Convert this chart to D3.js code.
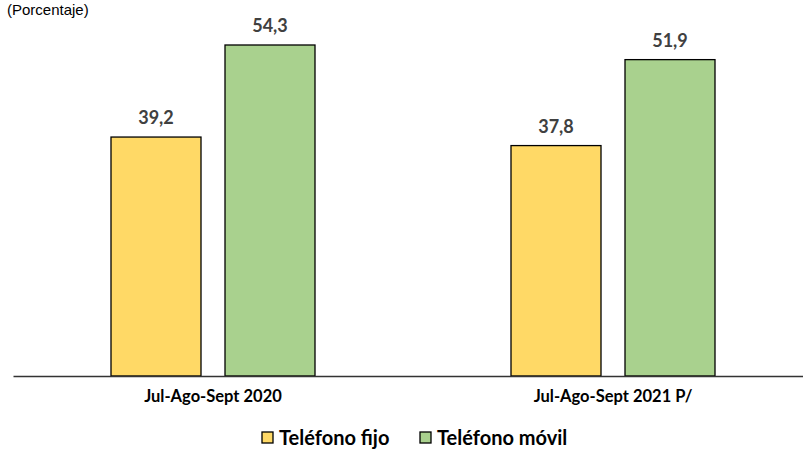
<!DOCTYPE html>
<html><head><meta charset="utf-8">
<script src="https://cdn.jsdelivr.net/npm/d3@7"></script>
<style>body{margin:0;background:#fff}</style>
</head><body>
<svg id="c" width="803" height="449"></svg>
<script>
const categories = ["Jul-Ago-Sept 2020", "Jul-Ago-Sept 2021 P/"];
const seriesNames = ["Teléfono fijo", "Teléfono móvil"];
const fijo = [39.2, 37.8];
const movil = [54.3, 51.9];
const colors = ["#FFD966", "#A9D18E"];

const svg = d3.select("#c");
const baseY = 376;
const x0 = d3.scaleBand().domain(categories).range([13, 813]).padding(0);
const x1 = d3.scaleBand().domain(seriesNames).range([-102, 102]).paddingInner(24/114).paddingOuter(0);
const y = d3.scaleLinear().domain([0, 54.3]).range([baseY, 45]);

svg.append("text").attr("x", 7).attr("y", 15).attr("font-family", "Liberation Sans, Arial").attr("font-size", 15).attr("fill", "#000").text("(Porcentaje)");

const data = [];
categories.forEach((c, i) => {
  data.push({c, s: seriesNames[0], v: fijo[i], col: colors[0]});
  data.push({c, s: seriesNames[1], v: movil[i], col: colors[1]});
});
const cx = c => x0(c) + x0.bandwidth() / 2;

svg.selectAll("rect.bar").data(data).enter().append("rect")
  .attr("class", "bar")
  .attr("x", d => cx(d.c) + x1(d.s))
  .attr("width", x1.bandwidth())
  .attr("y", d => y(d.v))
  .attr("height", d => baseY - y(d.v))
  .attr("fill", d => d.col)
  .attr("stroke", "#000").attr("stroke-width", 1.3);

svg.selectAll("text.val").data(data).enter().append("text")
  .attr("x", d => cx(d.c) + x1(d.s) + x1.bandwidth() / 2)
  .attr("y", d => y(d.v) - 13)
  .attr("text-anchor", "middle")
  .attr("font-family", "Lato, sans-serif").attr("font-weight", "bold")
  .attr("font-size", 18).attr("fill", "#404040")
  .text(d => d.v.toFixed(1).replace(".", ","));

const axis = d3.axisBottom(x0).tickSize(0).tickPadding(14);
const g = svg.append("g").attr("transform", `translate(0,${baseY})`).call(axis);
g.select(".domain").attr("stroke", "#333").attr("stroke-width", 1.5);
g.selectAll("text").attr("font-family", "Lato, sans-serif").attr("font-weight", "bold").attr("font-size", 16.5).attr("fill", "#000");

const legend = svg.append("g");
const lx = [262, 420];
seriesNames.forEach((s, i) => {
  legend.append("rect").attr("x", lx[i]).attr("y", 432).attr("width", 11).attr("height", 11)
    .attr("fill", colors[i]).attr("stroke", "#000").attr("stroke-width", 1.3);
  legend.append("text").attr("x", lx[i] + 17).attr("y", 445)
    .attr("font-family", "Lato, sans-serif").attr("font-weight", "bold").attr("font-size", 20)
    .attr("fill", "#000").text(s);
});
</script>
</body></html>
